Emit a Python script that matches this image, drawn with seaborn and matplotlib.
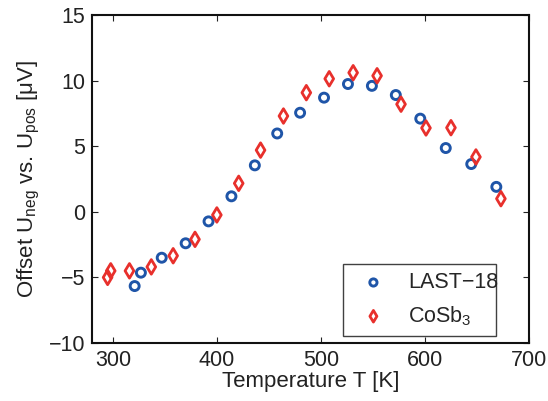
import matplotlib
matplotlib.use("Agg")
import matplotlib.pyplot as plt
import seaborn as sns
import pandas as pd

# Data
last_T = [321, 327, 347, 370, 392, 414, 436.5, 458, 480, 503, 526, 549, 572, 595.5, 620, 644.5, 668.6]
last_U = [-5.66, -4.64, -3.5, -2.4, -0.73, 1.18, 3.54, 5.97, 7.55, 8.7, 9.74, 9.6, 8.9, 7.1, 4.86, 3.64, 1.9]
cosb_T = [295, 298, 316, 337, 358, 379, 400, 421, 442, 464, 486, 508, 531, 554, 577, 601, 625, 649, 673]
cosb_U = [-5.0, -4.5, -4.5, -4.2, -3.35, -2.1, -0.24, 2.17, 4.7, 7.3, 9.08, 10.14, 10.6, 10.37, 8.2, 6.39, 6.41, 4.18, 1.0]
xticks = [300, 400, 500, 600, 700]
yticks = [-10, -5, 0, 5, 10, 15]

blue = "#1f55a8"
red = "#e8302c"

sns.set_theme(style="ticks")
plt.rcParams["font.family"] = ["Liberation Sans", "DejaVu Sans"]
plt.rcParams["mathtext.fontset"] = "custom"
plt.rcParams["mathtext.rm"] = "Liberation Sans"
plt.rcParams["mathtext.it"] = "Liberation Sans"

fig = plt.figure(figsize=(5.48, 4.01), dpi=100)
ax = fig.add_axes([92/548, 1-343/401, (529-92)/548, (343-15)/401])

df1 = pd.DataFrame({"T": last_T, "U": last_U})
df2 = pd.DataFrame({"T": cosb_T, "U": cosb_U})

sns.scatterplot(data=df1, x="T", y="U", ax=ax, marker="o", s=42,
                facecolors="none", edgecolor=blue, linewidth=2.1, label="LAST\u221218")
sns.scatterplot(data=df2, x="T", y="U", ax=ax, marker="d", s=55,
                facecolors="none", edgecolor=red, linewidth=2.0, label="CoSb$_3$")
for coll, c in zip(ax.collections, [blue, red]):
    coll.set_facecolor("none")
    coll.set_edgecolor(c)

ax.set_xlim(280, 700)
ax.set_ylim(-10, 15)
ax.set_xticks(xticks)
ax.set_yticks(yticks)
ax.set_yticklabels([str(v).replace("-", "\u2212") for v in yticks])
ax.tick_params(direction="in", length=4, width=0.8, top=True, right=True,
               labelsize=15.5, colors="#222222", pad=5)
for s in ax.spines.values():
    s.set_visible(True)
    s.set_linewidth(1.5)
    s.set_color("#111111")

ax.set_xlabel("Temperature T [K]", fontsize=16, color="#222222", labelpad=0)
ax.set_ylabel("Offset U$_{\\rm neg}$ vs. U$_{\\rm pos}$ [\u03bcV]", fontsize=16,
              color="#222222", labelpad=5)

leg = ax.legend(loc="lower left", bbox_to_anchor=(0.575, 0.021, 0.349, 0.212),
                mode="expand", fontsize=15.5, frameon=True, fancybox=False,
                borderpad=0.4, handletextpad=0.6, labelspacing=0.5,
                borderaxespad=0, markerscale=0.8)
leg.get_frame().set_edgecolor("#111111")
leg.get_frame().set_linewidth(1.0)

fig.savefig("out.png", dpi=100)
